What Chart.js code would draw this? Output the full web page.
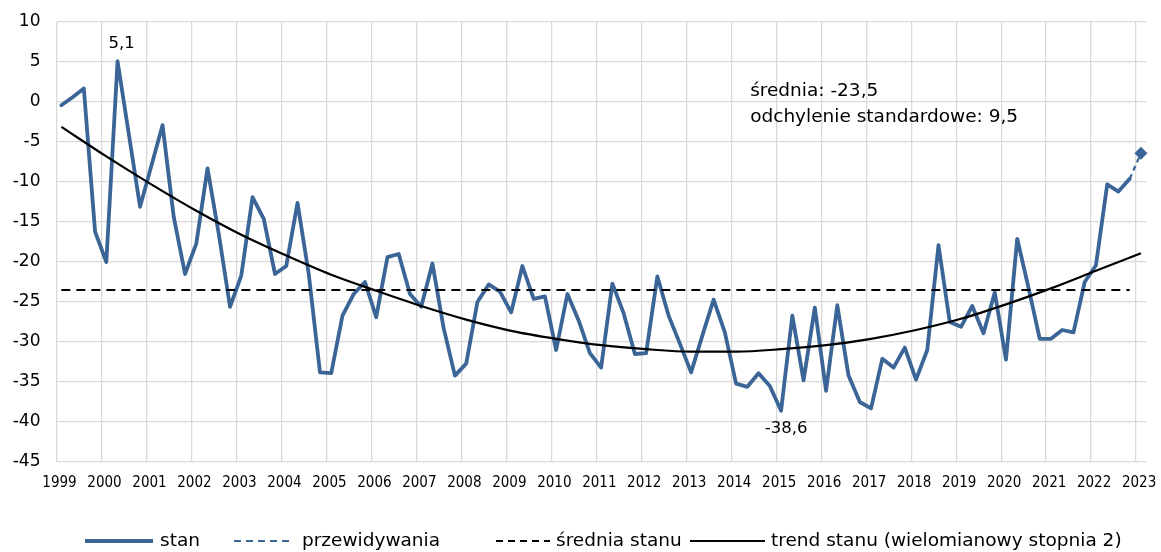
<!DOCTYPE html>
<html><head><meta charset="utf-8">
<script src="https://cdn.jsdelivr.net/npm/chart.js@4.4.1/dist/chart.umd.min.js"></script>
<style>html,body{margin:0;padding:0;background:#fff;}#wrap{width:1161px;height:552px;}</style>
</head><body><div id="wrap"><canvas id="c" width="1161" height="552"></canvas></div>
<script>
// ---- data ----
const years = [1999,2000,2001,2002,2003,2004,2005,2006,2007,2008,2009,2010,2011,2012,2013,2014,2015,2016,2017,2018,2019,2020,2021,2022,2023];
const quarterLabels = [];
years.forEach(y => { for (let q = 1; q <= 4; q++) { if (y < 2023 || q === 1) quarterLabels.push(y + ' Q' + q); } });
const stan = [
 -0.4, 0.6, 1.7, -16.2, -20.0, 5.1, -4.0, -13.1, -8.0, -2.9, -14.4, -21.5,
 -17.7, -8.3, -16.5, -25.6, -21.7, -11.9, -14.6, -21.5, -20.5, -12.6, -21.5, -33.8,
 -33.9, -26.7, -24.0, -22.5, -26.9, -19.4, -19.0, -24.0, -25.6, -20.2, -28.3, -34.2,
 -32.7, -25.0, -22.8, -23.7, -26.3, -20.5, -24.6, -24.3, -31.0, -24.0, -27.3, -31.4,
 -33.2, -22.7, -26.4, -31.5, -31.4, -21.8, -26.7, -30.2, -33.8, -29.2, -24.7, -28.8,
 -35.2, -35.6, -33.9, -35.5, -38.6, -26.7, -34.8, -25.7, -36.1, -25.4, -34.2, -37.5,
 -38.3, -32.1, -33.2, -30.7, -34.7, -31.0, -17.9, -27.5, -28.1, -25.5, -28.9, -23.8,
 -32.2, -17.1, -23.2, -29.6, -29.6, -28.5, -28.8, -22.5, -20.4, -10.3, -11.2, -9.6
];
const forecastValue = -6.4;
const meanValue = -23.5;
const stdDevValue = 9.5;
const trendQuarterIdx = [0,4,8,12,16,20,24,28,32,36,40,44,48,52,56,60,64,68,72,76,80,84,88,92,96];
const trendValues = [-3.1,-6.8,-10.3,-13.6,-16.6,-19.2,-21.6,-23.6,-25.5,-27.2,-28.6,-29.6,-30.4,-30.9,-31.2,-31.2,-30.9,-30.4,-29.6,-28.5,-27.1,-25.3,-23.3,-21.1,-18.9];
const yTickValues = [10,5,0,-5,-10,-15,-20,-25,-30,-35,-40,-45];
const seriesNames = ['stan','przewidywania','średnia stanu','trend stanu (wielomianowy stopnia 2)'];
const infoLines = ['średnia: ' + String(meanValue).replace('.', ','), 'odchylenie standardowe: ' + String(stdDevValue).replace('.', ',')];

// ---- styling ----
const BLUE = '#3a6596';
const FONT = "'DejaVu Sans', sans-serif";
const XFONT = "'DejaVu Sans Condensed', 'DejaVu Sans', sans-serif";
const X_MIN = -0.43, X_MAX = 96.45;

const lastIdx = stan.length - 1;
const stanPts = stan.map((v, i) => ({x: i, y: v}));
const forecastPts = [{x: lastIdx, y: stan[lastIdx]}, {x: lastIdx + 1, y: forecastValue}];
const meanPts = [{x: 0, y: meanValue}, {x: lastIdx, y: meanValue}];
const trendPts = trendQuarterIdx.map((q, i) => ({x: q, y: trendValues[i]}));

const fmt = v => String(v).replace('.', ',');

const extraPlugin = {
  id: 'extra',
  afterDatasetsDraw(chart) {
    const ctx = chart.ctx, xs = chart.scales.x, ys = chart.scales.y;
    ctx.save();
    let maxI = 0, minI = 0;
    stan.forEach((v, i) => { if (v > stan[maxI]) maxI = i; if (v < stan[minI]) minI = i; });
    ctx.font = '16.5px ' + FONT;
    ctx.fillStyle = '#000';
    ctx.textAlign = 'center';
    ctx.textBaseline = 'middle';
    ctx.fillText(fmt(stan[maxI]), xs.getPixelForValue(maxI) + 4, ys.getPixelForValue(stan[maxI]) - 17);
    ctx.fillText(fmt(stan[minI]), xs.getPixelForValue(minI) + 5, ys.getPixelForValue(stan[minI]) + 18);
    ctx.font = '18.5px ' + FONT;
    ctx.textAlign = 'left';
    ctx.fillText(infoLines[0], xs.getPixelForValue(61.25), ys.getPixelForValue(1.35));
    ctx.fillText(infoLines[1], xs.getPixelForValue(61.25), ys.getPixelForValue(-1.9));
    const legendY = 541;
    const legendLayout = [
      {x0: 85, x1: 153, tx: 160, color: BLUE, w: 4, dash: []},
      {x0: 234, x1: 292, tx: 302, color: BLUE, w: 2, dash: [7,5]},
      {x0: 496, x1: 550, tx: 556, color: '#000', w: 2, dash: [7,5]},
      {x0: 690, x1: 765, tx: 771, color: '#000', w: 2, dash: []}
    ];
    legendLayout.forEach((it, i) => {
      ctx.beginPath();
      ctx.setLineDash(it.dash);
      ctx.strokeStyle = it.color;
      ctx.lineWidth = it.w;
      ctx.moveTo(it.x0, legendY);
      ctx.lineTo(it.x1, legendY);
      ctx.stroke();
      ctx.setLineDash([]);
      ctx.fillStyle = '#000';
      ctx.textBaseline = 'middle';
      ctx.fillText(seriesNames[i], it.tx, legendY);
    });
    ctx.restore();
  }
};

new Chart(document.getElementById('c'), {
  type: 'line',
  data: {
    datasets: [
      {label: seriesNames[0], data: stanPts, borderColor: BLUE, borderWidth: 3.8, pointRadius: 0, tension: 0,
       borderJoinStyle: 'round', borderCapStyle: 'round', order: 4},
      {label: seriesNames[1], data: forecastPts, borderColor: BLUE, backgroundColor: BLUE, borderWidth: 2.2,
       borderDash: [5,4], pointRadius: [0, 6.5], pointHoverRadius: [0, 6.5], pointStyle: 'rectRot', pointBorderWidth: 0,
       clip: false, order: 3},
      {label: seriesNames[2], data: meanPts, borderColor: '#000', borderWidth: 2, borderDash: [9,6], pointRadius: 0, order: 2},
      {label: seriesNames[3], data: trendPts, borderColor: '#000', borderWidth: 2.2, pointRadius: 0, tension: 0.4,
       cubicInterpolationMode: 'monotone', order: 1}
    ]
  },
  options: {
    responsive: false,
    animation: false,
    devicePixelRatio: 1,
    layout: {padding: {top: 22, right: 15, left: 0, bottom: 0}},
    plugins: {legend: {display: false}, tooltip: {enabled: false}},
    scales: {
      x: {
        type: 'linear', min: X_MIN, max: X_MAX,
        afterBuildTicks: s => { s.ticks = years.map((y, k) => ({value: X_MIN + 4 * k})); },
        ticks: {autoSkip: false, maxRotation: 0, minRotation: 0, labelOffset: 3, padding: 12, color: '#000',
                font: {family: XFONT, size: 15}, callback: (v, i) => String(years[i])},
        grid: {color: '#d9d9d9', lineWidth: 1.3, drawTicks: false},
        border: {display: false},
        afterFit: s => { s.height = 90; s.paddingLeft = 0; s.paddingRight = 0; s.paddingTop = 0; s.paddingBottom = 0; }
      },
      y: {
        min: -45, max: 10,
        afterBuildTicks: s => { s.ticks = yTickValues.map(v => ({value: v})); },
        ticks: {padding: 16, color: '#000', font: {family: FONT, size: 17}, callback: v => String(v)},
        grid: {color: '#d9d9d9', lineWidth: 1.3, drawTicks: false},
        border: {display: false},
        afterFit: s => { s.width = 56.5; s.paddingLeft = 0; s.paddingRight = 0; s.paddingTop = 0; s.paddingBottom = 0; }
      }
    }
  },
  plugins: [extraPlugin]
});
</script></body></html>
